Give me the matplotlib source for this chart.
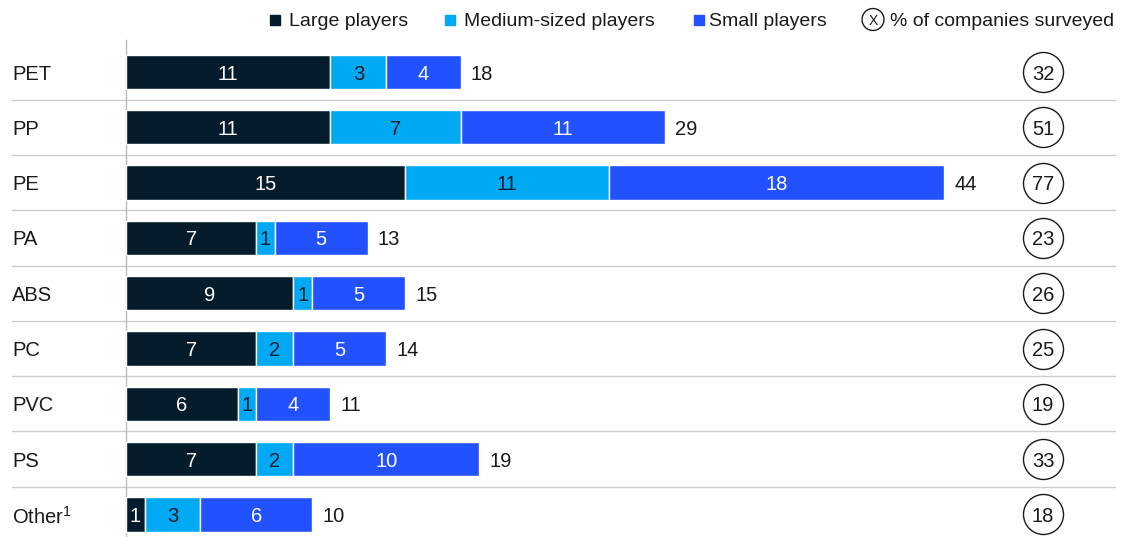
import matplotlib
matplotlib.use("Agg")
import matplotlib.pyplot as plt
from matplotlib.patches import Rectangle

plt.rcParams['font.family'] = ['Liberation Sans', 'DejaVu Sans']

categories = ["PET", "PP", "PE", "PA", "ABS", "PC", "PVC", "PS", "Other$^1$"]
large = [11, 11, 15, 7, 9, 7, 6, 7, 1]
medium = [3, 7, 11, 1, 1, 2, 1, 2, 3]
small = [4, 11, 18, 5, 5, 5, 4, 10, 6]
totals = [18, 29, 44, 13, 15, 14, 11, 19, 10]
surveyed = [32, 51, 77, 23, 26, 25, 19, 33, 18]

series_names = ["Large players", "Medium-sized players", "Small players"]
colors = ["#051C2C", "#00A9F4", "#2251FF"]
text_colors = ["white", "#051C2C", "white"]

plt.rcParams['mathtext.fontset'] = 'custom'
plt.rcParams['mathtext.rm'] = 'Liberation Sans'
plt.rcParams['mathtext.default'] = 'regular'

W, H = 1131, 537
fig = plt.figure(figsize=(W / 100, H / 100), dpi=100)
ax = fig.add_axes([0, 0, 1, 1])

# pixel geometry of the reference
x0_px, px_per_unit = 126, 18.59
y0_px, row_px = 72, 55.3

def px_x(p):
    return (p - x0_px) / px_per_unit

def px_y(p):
    return (p - y0_px) / row_px

ax.set_xlim(px_x(0), px_x(W))
ax.set_ylim(px_y(H), px_y(0))
ax.axis("off")

fs = 14.5
ypos = list(range(len(categories)))
left = [0] * len(categories)
for vals, col, tcol in zip([large, medium, small], colors, text_colors):
    ax.barh(ypos, vals, left=left, height=0.62, color=col,
            edgecolor="white", linewidth=1)
    for y, v, l in zip(ypos, vals, left):
        ax.text(l + v / 2, y, str(v), ha="center", va="center_baseline",
                color=tcol, fontsize=fs)
    left = [a + b for a, b in zip(left, vals)]

for y, t in zip(ypos, totals):
    ax.text(t + 0.55, y, str(t), ha="left", va="center_baseline",
            fontsize=fs, color="#1a1a1a")

for y, c in zip(ypos, categories):
    ax.text(px_x(12), y, c, ha="left", va="center_baseline", fontsize=fs,
            color="#1a1a1a")

# circled survey percentages
for y, s in zip(ypos, surveyed):
    ax.scatter([px_x(1043)], [y], s=830, facecolor="white",
               edgecolor="#1a1a1a", linewidth=1, zorder=3)
    ax.text(px_x(1043), y, str(s), ha="center", va="center_baseline",
            fontsize=fs, color="#1a1a1a", zorder=4)

# row separators and axis line
for y in ypos[:-1]:
    ax.plot([px_x(12), px_x(1115)], [y + 0.5, y + 0.5], color="#cccccc",
            linewidth=1, zorder=0)
ax.plot([0, 0], [px_y(40), px_y(H)], color="#bbbbbb", linewidth=1, zorder=0)

# legend across the top
def fx(p):
    return p / W

def fy(p):
    return 1 - p / H

leg_y = 19.5
sq = 10
for name, col, sx, tx in zip(series_names, colors, [270, 445, 694],
                             [289, 464, 709]):
    fig.patches.append(Rectangle((fx(sx), fy(leg_y + sq / 2)), sq / W, sq / H,
                                 transform=fig.transFigure, color=col))
    fig.text(fx(tx), fy(leg_y), name, ha="left", va="center_baseline",
             fontsize=14, color="#1a1a1a")

fig.text(fx(873), fy(leg_y), "X", ha="center", va="center_baseline",
         fontsize=10, color="#1a1a1a")
ax.scatter([px_x(873)], [px_y(leg_y)], s=250, facecolor="none",
           edgecolor="#1a1a1a", linewidth=1, clip_on=False)
fig.text(fx(890), fy(leg_y), "% of companies surveyed", ha="left",
         va="center_baseline", fontsize=14, color="#1a1a1a")

fig.savefig("out.png", dpi=100)
